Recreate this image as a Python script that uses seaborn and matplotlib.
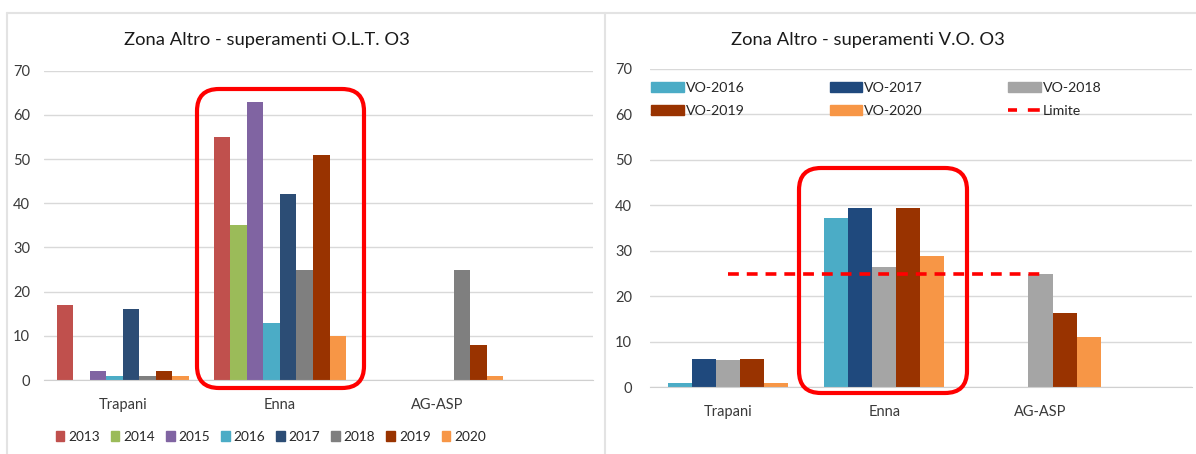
import numpy as np
import pandas as pd
import matplotlib
matplotlib.use("Agg")
import matplotlib.pyplot as plt
import seaborn as sns
from matplotlib.patches import FancyBboxPatch, Patch
from matplotlib.lines import Line2D

zone = ['Trapani', 'Enna', 'AG-ASP']

# superamenti O.L.T. (left chart), one list per year: Trapani, Enna, AG-ASP
anni_olt = ['2013', '2014', '2015', '2016', '2017', '2018', '2019', '2020']
olt_2013 = [17, 55, 0]
olt_2014 = [0, 35, 0]
olt_2015 = [2, 63, 0]
olt_2016 = [1, 13, 0]
olt_2017 = [16, 42, 0]
olt_2018 = [1, 25, 25]
olt_2019 = [2, 51, 8]
olt_2020 = [1, 10, 1]
olt_values = [olt_2013, olt_2014, olt_2015, olt_2016, olt_2017, olt_2018, olt_2019, olt_2020]
colori_olt = ['#C0504D', '#9BBB59', '#8064A2', '#4BACC6', '#2C4D75', '#7F7F7F', '#993300', '#F79646']

# superamenti V.O. (right chart)
anni_vo = ['VO-2016', 'VO-2017', 'VO-2018', 'VO-2019', 'VO-2020']
vo_2016 = [1, 37.1, 0]
vo_2017 = [6.3, 39.3, 0]
vo_2018 = [6.1, 26.5, 24.9]
vo_2019 = [6.3, 39.3, 16.4]
vo_2020 = [0.9, 28.9, 11.1]
vo_values = [vo_2016, vo_2017, vo_2018, vo_2019, vo_2020]
colori_vo = ['#4BACC6', '#1F497D', '#A5A5A5', '#993300', '#F79646']
limite = [25, 25, 25]

yticks = [0, 10, 20, 30, 40, 50, 60, 70]


def long_df(anni, valori):
    rows = []
    for a, vals in zip(anni, valori):
        for z, v in zip(zone, vals):
            rows.append({'zona': z, 'anno': a, 'valore': v})
    return pd.DataFrame(rows)


df_olt = long_df(anni_olt, olt_values)
df_vo = long_df(anni_vo, vo_values)

sns.set_style("white")
plt.rcParams['font.family'] = ['Lato', 'DejaVu Sans']

W, H = 1196, 454
fig = plt.figure(figsize=(W / 100, H / 100), dpi=100)
fig.patch.set_facecolor('white')


def px_axes(x0, x1, ytop, ybot):
    return fig.add_axes([x0 / W, (H - ybot) / H, (x1 - x0) / W, (ybot - ytop) / H])


def stile(ax, xmax):
    ax.set_ylim(0, 70)
    ax.set_xlim(-0.5, xmax)
    ax.set_yticks(yticks)
    ax.yaxis.grid(True, color='#D9D9D9', linewidth=1)
    ax.set_axisbelow(True)
    for s in ['top', 'right', 'left']:
        ax.spines[s].set_visible(False)
    ax.spines['bottom'].set_color('#D0D0D0')
    ax.tick_params(axis='both', length=0, labelsize=10.5, colors='#3a3a3a')
    ax.tick_params(axis='x', pad=13)
    ax.set_xlabel('')
    ax.set_ylabel('')


# left chart
ax1 = px_axes(44, 593, 70.7, 380)
sns.barplot(data=df_olt, x='zona', y='valore', hue='anno', hue_order=anni_olt,
            palette=colori_olt, saturation=1, width=0.84, errorbar=None,
            linewidth=0, ax=ax1)
stile(ax1, 2.99)
ax1.tick_params(axis='y', pad=10)
h1 = [Patch(color=c) for c in colori_olt]
ax1.legend(h1, anni_olt, ncol=8, loc='center left', frameon=False,
           bbox_to_anchor=(56 / W, (H - 437) / H), bbox_transform=fig.transFigure,
           fontsize=9.8, handlelength=0.62, handleheight=0.72, handletextpad=0.3,
           columnspacing=0.8, borderaxespad=0, borderpad=0,
           labelcolor='#262626')
fig.text(267 / W, (H - 40) / H, 'Zona Altro - superamenti O.L.T. O3',
         ha='center', va='center', fontsize=13.2, color='#1a1a1a')

# right chart
ax2 = px_axes(650, 1192, 68.7, 387.3)
sns.barplot(data=df_vo, x='zona', y='valore', hue='anno', hue_order=anni_vo,
            palette=colori_vo, saturation=1, width=0.77, errorbar=None,
            linewidth=0, ax=ax2)
ax2.plot(range(len(zone)), limite, color='#FF0000', linestyle=(0, (3, 2.2)),
         linewidth=2.6, label='Limite')
stile(ax2, 2.97)
ax2.tick_params(axis='y', pad=13)
hb = [Patch(color=c) for c in colori_vo]
hl = Line2D([], [], color='#FF0000', linestyle=(0.8, (3.3, 3.0)), linewidth=2.6)
handles = [hb[0], hb[3], hb[1], hb[4], hb[2], hl]
labels = [anni_vo[0], anni_vo[3], anni_vo[1], anni_vo[4], anni_vo[2], 'Limite']
ax2.legend(handles, labels, ncol=3, loc='upper left', frameon=False,
           bbox_to_anchor=(651 / W, (H - 82) / H), bbox_transform=fig.transFigure,
           fontsize=10.2, handlelength=2.3, handleheight=0.75, handletextpad=0.15,
           columnspacing=6.0, borderaxespad=0, borderpad=0, labelspacing=0.75,
           labelcolor='#262626')
fig.text(868 / W, (H - 40) / H, 'Zona Altro - superamenti V.O. O3',
         ha='center', va='center', fontsize=13.2, color='#1a1a1a')

# panel borders
bord = '#E3E3E3'
fig.add_artist(Line2D([7 / W, 605 / W], [(H - 13) / H] * 2, color=bord, lw=1.5))
fig.add_artist(Line2D([7 / W] * 2, [0, (H - 13) / H], color=bord, lw=1.5))
fig.add_artist(Line2D([605 / W] * 2, [0, (H - 13) / H], color=bord, lw=1.5))
fig.add_artist(Line2D([606 / W, 1], [(H - 13) / H] * 2, color=bord, lw=1.5))

# red highlight boxes around Enna (pixel coords)
for (x0, x1, yt, yb) in [(197, 364, 89, 388), (799, 967, 168, 393)]:
    box = FancyBboxPatch((x0, H - yb), x1 - x0, yb - yt,
                         boxstyle='round,pad=0,rounding_size=22',
                         transform=None, fill=False, edgecolor='#FF0000',
                         linewidth=3)
    fig.add_artist(box)

fig.savefig('out.png', dpi=100, facecolor='white')
